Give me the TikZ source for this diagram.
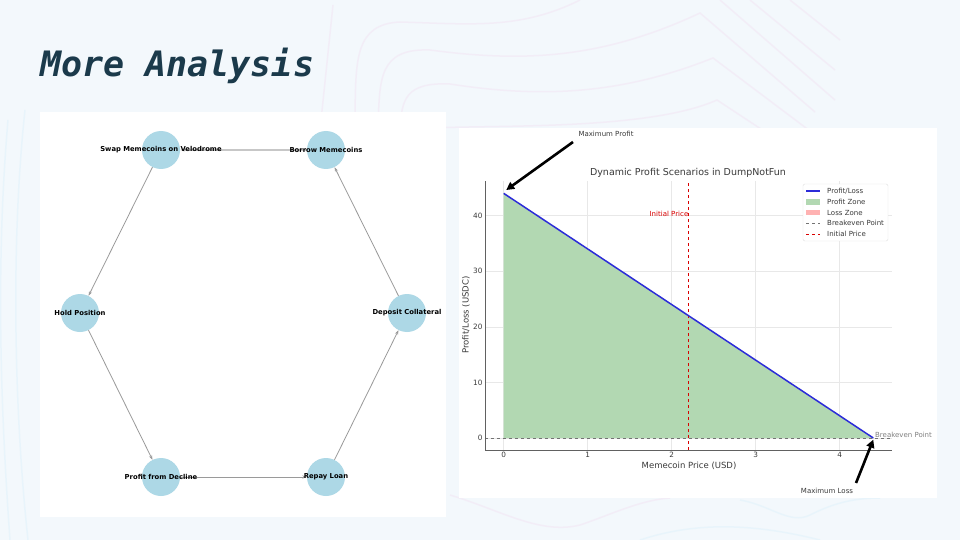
\documentclass[tikz,border=0pt]{standalone}
\usepackage{fontspec}
\setmainfont{DejaVu Sans}
\newfontfamily\titlefont{DejaVu Sans Mono}
\usetikzlibrary{arrows.meta}

\definecolor{slidebg}{HTML}{F3F8FC}
\definecolor{titleteal}{HTML}{1B3A4B}
\definecolor{nodeblue}{HTML}{ADD8E6}
\definecolor{edgegray}{HTML}{9A9A9A}
\definecolor{bgpink}{HTML}{F2DDF0}
\definecolor{bgcyan}{HTML}{D9F0FA}
\definecolor{profitgreen}{HTML}{B2D8B2}
\definecolor{pnlblue}{HTML}{2C2CD8}
\definecolor{inkgray}{HTML}{3A3A3A}

\tikzset{
  stepnode/.style={circle, fill=nodeblue, minimum size=38pt, inner sep=0pt},
  steplabel/.style={font=\fontsize{6.8}{8}\selectfont\bfseries, text=black, inner sep=0pt},
  flow/.style={draw=edgegray, line width=0.8pt, -{Stealth[length=4.5pt,width=3.2pt]}},
  gridline/.style={draw=black!9, line width=0.6pt},
  spine/.style={draw=inkgray!80, line width=0.9pt},
  ticklbl/.style={font=\fontsize{7.3}{9}\selectfont, text=inkgray, inner sep=0pt},
  smalltxt/.style={font=\fontsize{7}{8}\selectfont, text=inkgray, inner sep=0pt},
  callout/.style={draw=black, line width=2.6pt, -{Triangle[length=8pt,width=8pt]}},
  deco/.style={line width=1.5pt, opacity=0.4}
}

\begin{document}
\begin{tikzpicture}[x=1pt, y=-1pt]
% slide
\fill[slidebg] (0,0) rectangle (960,540);
\useasboundingbox (0,0) rectangle (960,540);

% background contour lines
\draw[deco, bgpink] (320,130) -- (333,5);
\draw[deco, bgpink] (355,112) .. controls (356,60) and (355,24) .. (400,22) .. controls (470,24) and (520,30) .. (580,0);
\draw[deco, bgpink] (378,125) .. controls (380,80) and (378,48) .. (430,50) .. controls (520,62) and (600,60) .. (700,13) -- (815,112);
\draw[deco, bgpink] (400,128) .. controls (402,100) and (405,82) .. (450,84) .. controls (540,98) and (620,95) .. (713,58) -- (822,140);
\draw[deco, bgpink] (430,128) .. controls (500,125) and (650,130) .. (717,100) -- (770,135);
\draw[deco, bgpink] (720,0) -- (835,100);
\draw[deco, bgpink] (750,0) -- (835,70);
\draw[deco, bgpink] (790,0) -- (840,40);
\draw[deco, bgpink] (450,495) .. controls (500,510) and (540,535) .. (580,525) .. controls (610,515) and (640,500) .. (670,498);
\draw[deco, bgcyan] (740,500) .. controls (770,505) and (790,525) .. (810,515) .. controls (830,505) and (850,498) .. (880,498);
\draw[deco, bgcyan] (640,540) .. controls (700,520) and (760,525) .. (820,540);
\draw[deco, bgcyan] (25,110) .. controls (10,250) and (15,420) .. (28,540);
\draw[deco, bgcyan] (8,120) .. controls (-4,260) and (0,400) .. (10,540);

% title
\node[anchor=base west, inner sep=0pt, text=titleteal,
  font=\titlefont\fontsize{35}{40}\selectfont\bfseries\itshape] (title) at (40,77) {More Analysis};

% panels
\fill[white] (40,112) rectangle (446,517);
\fill[white] (459,128) rectangle (937,498);

% --- strategy cycle ---
\node[stepnode] (swap) at (161,150) {};
\node[stepnode] (borrow) at (326,150) {};
\node[stepnode] (hold) at (80,313) {};
\node[stepnode] (deposit) at (407,313) {};
\node[stepnode] (profit) at (161,477) {};
\node[stepnode] (repay) at (326,477) {};

\draw[flow] (deposit) -- (borrow);
\draw[flow, draw=black!22, line width=1.6pt] (borrow) -- (swap);
\draw[flow] (swap) -- (hold);
\draw[flow] (hold) -- (profit);
\draw[flow] (profit) -- (repay);
\draw[flow] (repay) -- (deposit);

\node[steplabel] (swaplbl) at (swap) {Swap Memecoins on Velodrome};
\node[steplabel] (borrowlbl) at (borrow) {Borrow Memecoins};
\node[steplabel] (holdlbl) at (hold) {Hold Position};
\node[steplabel] (depositlbl) at (deposit) {Deposit Collateral};
\node[steplabel] (profitlbl) at (profit) {Profit from Decline};
\node[steplabel] (repaylbl) at (repay) {Repay Loan};

% --- profit chart ---
\begin{scope}[shift={(503.7,438)}, x=84pt, y=5.56pt]
  \foreach \gx in {0,...,4}
    \draw[gridline] (\gx,-2.16) -- (\gx,46.2);
  \foreach \gy in {0,10,...,40}
    \draw[gridline] (-0.223,\gy) -- (4.62,\gy);
  \fill[profitgreen] (0,0) -- (0,44) -- (4.4,0) -- cycle;
  \draw[black!55, dashed, line width=0.8pt] (-0.223,0) -- (4.62,0);
  \draw[red!85!black, dashed, line width=0.9pt] (2.2,-2.16) -- (2.2,46.2);
  \draw[pnlblue, line width=1.5pt] (0,44) -- (4.4,0);
  \draw[spine] (-0.223,46.2) -- (-0.223,-2.16) -- (4.62,-2.16);
  \foreach \gx in {0,...,4}
    \node[ticklbl, anchor=north] (xt\gx) at (\gx,-2.5) {\gx};
  \foreach \gy in {0,10,...,40}
    \node[ticklbl, anchor=east] (yt\gy) at (-0.25,\gy) {\gy};
  \coordinate (maxprofittip) at (0.03,44.6);
  \coordinate (maxlosstip) at (4.4,-0.3);
  \node[smalltxt, text=red!85!black, anchor=east] (initlbl) at (2.2,40.3) {Initial Price};
  \node[smalltxt, text=black!50, anchor=west] (bevenlbl) at (4.42,0.5) {Breakeven Point};
\end{scope}

\node[font=\fontsize{9.5}{11}\selectfont, text=inkgray] (charttitle) at (688,173) {Dynamic Profit Scenarios in DumpNotFun};
\node[font=\fontsize{8.5}{10}\selectfont, text=inkgray] (xlabel) at (689,466) {Memecoin Price (USD)};
\node[font=\fontsize{8.5}{10}\selectfont, text=inkgray, rotate=90] (ylabel) at (466,315) {Profit/Loss (USDC)};

% callouts
\node[smalltxt] (maxprofit) at (606,134) {Maximum Profit};
\node[smalltxt] (maxloss) at (827,491) {Maximum Loss};
\coordinate (maxprofittail) at (573,142);
\coordinate (maxlosstail) at (856,483);
\draw[callout] (maxprofittail) -- (maxprofittip);
\draw[callout] (maxlosstail) -- (maxlosstip);

% legend
\draw[black!12, fill=white, rounded corners=1.5pt] (803,184) rectangle (888,241);
\draw[pnlblue, line width=1.5pt] (806,191) -- (820,191);
\fill[profitgreen] (806,199) rectangle (820,204.5);
\fill[red!30] (806,209.5) rectangle (820,215);
\draw[black!55, dashed, line width=0.8pt] (806,223) -- (820,223);
\draw[red!85!black, dashed, line width=0.8pt] (806,234) -- (820,234);
\node[smalltxt, anchor=west] (lg1) at (827,191) {Profit/Loss};
\node[smalltxt, anchor=west] (lg2) at (827,202) {Profit Zone};
\node[smalltxt, anchor=west] (lg3) at (827,212.5) {Loss Zone};
\node[smalltxt, anchor=west] (lg4) at (827,223) {Breakeven Point};
\node[smalltxt, anchor=west] (lg5) at (827,234) {Initial Price};
\end{tikzpicture}
\end{document}
